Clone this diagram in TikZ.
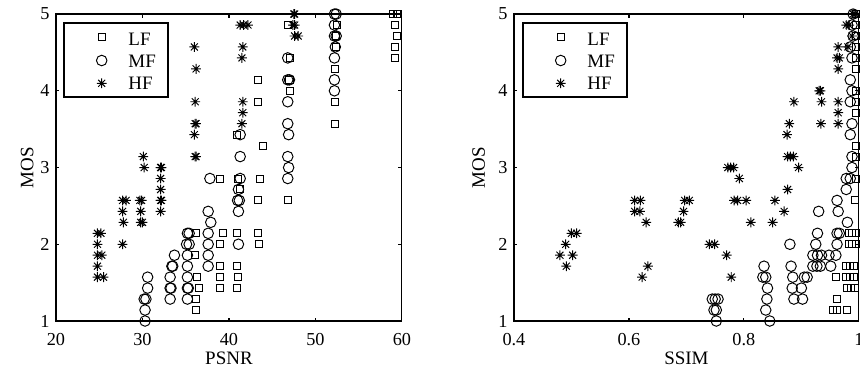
\documentclass[tikz,border=0pt]{standalone}
\usepackage{fontspec}
\setmainfont{Liberation Serif}
\usetikzlibrary{plotmarks}

\pgfdeclareplotmark{hfstar}{%
  \pgfpathmoveto{\pgfqpoint{-\pgfplotmarksize}{0pt}}%
  \pgfpathlineto{\pgfqpoint{\pgfplotmarksize}{0pt}}%
  \pgfpathmoveto{\pgfqpoint{0pt}{-\pgfplotmarksize}}%
  \pgfpathlineto{\pgfqpoint{0pt}{\pgfplotmarksize}}%
  \pgfpathmoveto{\pgfqpoint{-.707\pgfplotmarksize}{-.707\pgfplotmarksize}}%
  \pgfpathlineto{\pgfqpoint{.707\pgfplotmarksize}{.707\pgfplotmarksize}}%
  \pgfpathmoveto{\pgfqpoint{-.707\pgfplotmarksize}{.707\pgfplotmarksize}}%
  \pgfpathlineto{\pgfqpoint{.707\pgfplotmarksize}{-.707\pgfplotmarksize}}%
  \pgfusepathqstroke}

\tikzset{
  axisbox/.style={line width=0.65pt},
  lf/.style={only marks, mark=square, mark size=2pt},
  mf/.style={only marks, mark=o, mark size=3pt},
  hf/.style={only marks, mark=hfstar, mark size=2.8pt},
  ticklabel/.style={font=\fontsize{10.4}{12}\selectfont, inner sep=0pt},
  axislabel/.style={font=\fontsize{10.8}{12}\selectfont, inner sep=0pt}
}

\begin{document}
\begin{tikzpicture}[x=0.02cm, y=0.02cm, line width=0.55pt]
	\useasboundingbox (0,0) rectangle (860,370);
	\begin{scope}[shift={(-117,49)}, x=0.173cm, y=0.21929cm]
		\draw plot[lf] coordinates {(36.2,1) (36.2,2) (36.5,3) (36.3,4) (36.1,6) (36.2,8)
			(39.0,3) (39.0,4) (39.0,5) (39.0,7) (39.3,8) (39.0,13)
			(40.9,3) (41.0,4) (40.9,5) (40.9,8) (41.3,12) (41.0,13) (40.9,17)
			(43.5,7) (43.4,8) (43.4,11) (43.6,13) (43.9,16) (43.4,20) (43.4,22)
			(46.8,11) (47.1,21) (47.0,22) (47.1,24) (46.8,27)
			(52.3,18) (52.3,20) (52.3,23) (52.4,25) (52.4,26) (52.5,27)
			(59.2,24) (59.2,25) (59.4,26) (59.2,27) (59.0,28) (59.4,28) (59.6,28)};
		\draw plot[mf] coordinates {(30.3,0) (30.3,1) (30.2,2) (30.4,2) (30.6,3) (30.6,4)
			(33.2,2) (33.2,3) (33.3,3) (33.2,4) (33.4,5) (33.5,5) (33.7,6)
			(35.2,2) (35.2,3) (35.3,3) (35.2,4) (35.2,5) (35.2,6) (35.1,7) (35.4,7) (35.4,8) (35.2,8)
			(37.6,5) (37.6,6) (37.6,7) (37.6,8) (37.9,9) (37.6,10) (37.8,13)
			(41.1,7) (41.1,10) (41.0,11) (41.2,11) (41.1,12) (41.3,13) (41.3,15) (41.3,17)
			(46.8,13) (46.9,14) (46.8,15) (46.9,17) (46.8,18) (46.8,20) (46.8,22) (47.0,22) (46.8,24)
			(52.2,21) (52.2,22) (52.2,24) (52.3,25) (52.2,26) (52.4,26) (52.2,27) (52.2,28) (52.4,28)};
		\draw plot[hf] coordinates {(24.8,8) (25.2,8) (24.8,7) (24.8,6) (25.3,6) (24.8,5) (24.8,4) (25.5,4)
			(27.7,11) (28.1,11) (27.7,10) (27.8,9) (27.7,7)
			(29.7,11) (29.9,11) (29.8,10) (29.8,9) (30.0,9) (30.1,15) (30.2,14)
			(32.1,14) (32.2,14) (32.1,13) (32.1,12) (32.1,11) (32.2,11) (32.1,10)
			(36.0,25) (36.2,23) (36.1,20) (36.1,18) (36.2,18) (36.0,17) (36.1,15) (36.2,15)
			(41.3,27) (41.7,27) (42.2,27) (41.6,25) (41.5,24) (41.6,20) (41.6,19) (41.5,18)
			(47.5,28) (47.6,28) (47.4,27) (47.6,27) (47.6,26) (48.0,26)};
		\draw[axisbox] (20,0) rectangle (60,28);
		\foreach \t in {30,40,50}
			\draw[axisbox] (\t,0) -- ++(0cm,0.07cm) (\t,28) -- ++(0cm,-0.07cm);
		\foreach \n in {7,14,21}
			\draw[axisbox] (20,\n) -- ++(0.07cm,0cm) (60,\n) -- ++(-0.07cm,0cm);
		\foreach \t in {20,30,...,60}
			\node[ticklabel, anchor=north, yshift=-0.23cm] (px\t) at (\t,0) {\t};
		\foreach \n/\m in {0/1,7/2,14/3,21/4,28/5}
			\node[ticklabel, anchor=east, xshift=-0.12cm] (py\m) at (20,\n) {\m};
		\node[axislabel, anchor=base, yshift=-0.88cm] (psnr) at (40,0) {PSNR};
		\node[axislabel, xshift=-0.454cm, rotate=90, anchor=base] (mosl) at (20,14) {MOS};
	\end{scope}
	\begin{scope}[shift={(284,49)}, x=11.5cm, y=0.21929cm]
		\draw plot[lf] coordinates {(0.960,4) (0.962,2) (0.955,1) (0.962,1) (0.980,1)
			(0.978,5) (0.985,5) (0.992,5) (0.978,4) (0.985,4) (0.992,4) (0.980,3) (0.986,3) (0.993,3)
			(0.982,8) (0.988,8) (0.995,8) (0.982,7) (0.988,7) (0.995,7) (0.993,11) (0.995,13)
			(0.995,15) (0.995,16) (0.995,19) (0.995,20) (0.995,21) (0.995,23) (0.995,24)
			(0.995,25) (0.995,26) (0.995,27) (0.995,28)};
		\draw plot[mf] coordinates {(0.745,2) (0.750,2) (0.755,2) (0.748,1) (0.752,1) (0.752,0)
			(0.835,5) (0.833,4) (0.838,4) (0.841,3) (0.840,2) (0.838,1) (0.845,0)
			(0.880,7) (0.882,5) (0.885,4) (0.884,3) (0.887,2) (0.902,2) (0.905,4) (0.910,4) (0.900,3)
			(0.930,10) (0.928,8) (0.925,7) (0.920,6) (0.928,6) (0.935,6) (0.948,6) (0.960,6)
			(0.920,5) (0.927,5) (0.933,5) (0.951,5)
			(0.962,11) (0.964,10) (0.962,8) (0.966,8) (0.962,7) (0.980,9) (0.978,12) (0.978,13) (0.985,13)
			(0.988,14) (0.988,15) (0.985,17) (0.988,18) (0.985,20) (0.988,21) (0.985,22)
			(0.988,24) (0.985,25) (0.990,26) (0.988,27) (0.990,28)};
		\draw plot[hf] coordinates {(0.500,8) (0.509,8) (0.490,7) (0.480,6) (0.502,6) (0.491,5)
			(0.610,11) (0.620,11) (0.610,10) (0.619,10) (0.630,9) (0.633,5) (0.623,4)
			(0.697,11) (0.705,11) (0.695,10) (0.686,9) (0.690,9)
			(0.740,7) (0.749,7) (0.770,6) (0.778,4)
			(0.783,11) (0.789,11) (0.804,11) (0.812,9) (0.850,9) (0.854,11) (0.870,10) (0.876,12)
			(0.772,14) (0.777,14) (0.782,14) (0.792,13)
			(0.876,15) (0.881,15) (0.886,15) (0.895,14) (0.875,17) (0.879,18)
			(0.934,18) (0.964,18) (0.964,19) (0.887,20) (0.935,20) (0.964,20) (0.931,21) (0.933,21)
			(0.964,23) (0.962,24) (0.966,24) (0.964,25) (0.981,25) (0.988,26)
			(0.978,27) (0.983,27) (0.990,28) (0.993,28)};
		\draw[axisbox] (0.4,0) rectangle (1,28);
		\foreach \t in {0.6,0.8}
			\draw[axisbox] (\t,0) -- ++(0cm,0.07cm) (\t,28) -- ++(0cm,-0.07cm);
		\foreach \n in {7,14,21}
			\draw[axisbox] (0.4,\n) -- ++(0.07cm,0cm) (1,\n) -- ++(-0.07cm,0cm);
		\foreach \t in {0.4,0.6,0.8,1}
			\node[ticklabel, anchor=north, yshift=-0.23cm] (sx\t) at (\t,0) {\t};
		\foreach \n/\m in {0/1,7/2,14/3,21/4,28/5}
			\node[ticklabel, anchor=east, xshift=-0.12cm] (sy\m) at (0.4,\n) {\m};
		\node[axislabel, anchor=base, yshift=-0.88cm] (ssim) at (0.7,0) {SSIM};
		\node[axislabel, xshift=-0.58cm, rotate=90, anchor=base] (mosr) at (0.4,14) {MOS};
	\end{scope}
	\foreach \x/\k in {64/a,523/b} {
		\draw[axisbox, fill=white] (\x,273) rectangle ++(104,74);
		\draw plot[lf] coordinates {(\x+37.7,332.7)};
		\draw plot[mf] coordinates {(\x+37.7,309.5)};
		\draw plot[hf] coordinates {(\x+37.7,286.7)};
		\node[axislabel, anchor=base west] (lf\k) at (\x+64,325) {LF};
		\node[axislabel, anchor=base west] (mf\k) at (\x+64,303) {MF};
		\node[axislabel, anchor=base west] (hf\k) at (\x+64,280.7) {HF};
	}
\end{tikzpicture}
\end{document}
